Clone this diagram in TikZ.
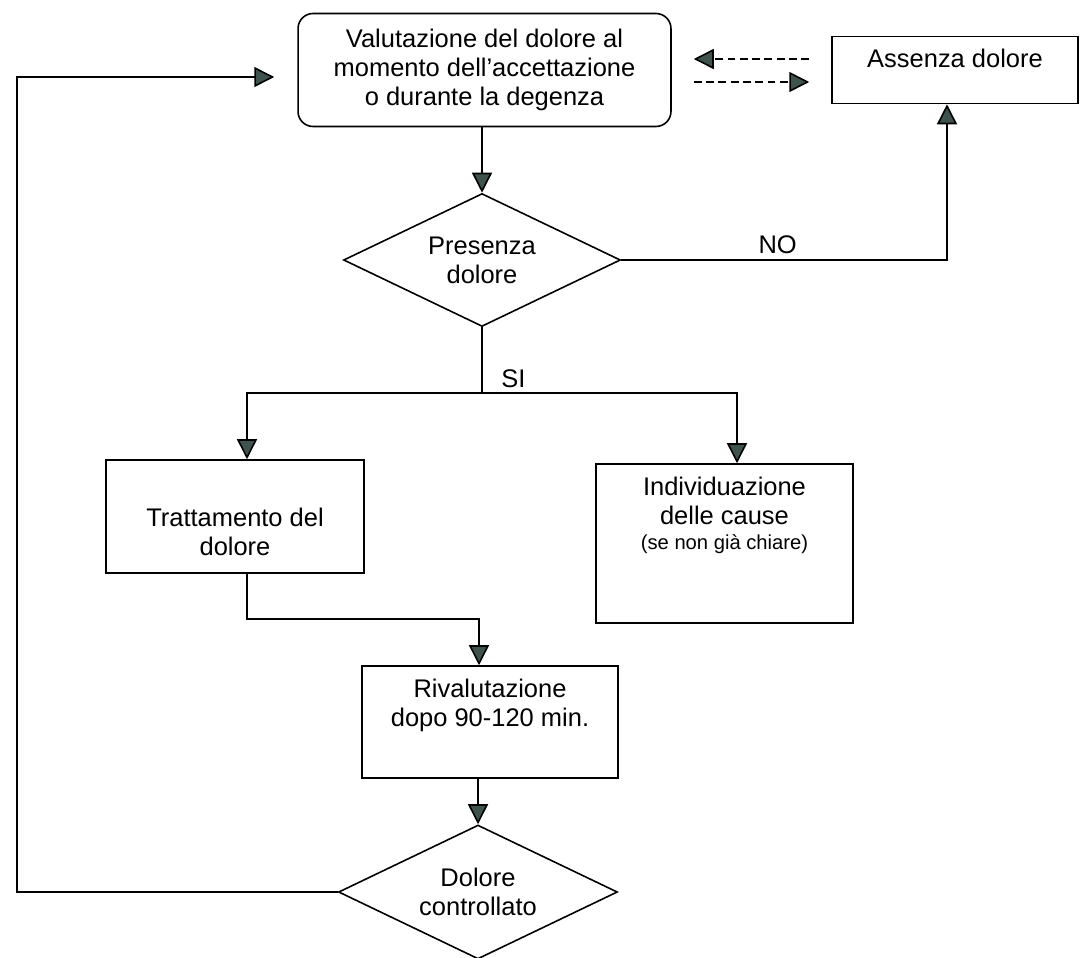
\documentclass[tikz,border=0pt]{standalone}
\usepackage{fontspec}
\setmainfont{Liberation Sans}
\usetikzlibrary{shapes.geometric,arrows.meta}
\definecolor{tipgray}{RGB}{62,82,78}

\begin{document}
\begin{tikzpicture}[x=0.02cm, y=-0.02cm,
	every node/.style={font=\fontsize{14.5}{16.5}\selectfont},
	box/.style={draw, line width=0.9pt, align=center, inner sep=0pt},
	decision/.style={draw, diamond, aspect=2.1, line width=0.9pt, align=center, inner sep=0pt},
	line/.style={line width=0.9pt},
	arrow/.style={line, -{Triangle[length=0.4cm, width=0.4cm, fill=tipgray]}},
	dasharrow/.style={arrow, dash pattern=on 4.5pt off 2.5pt, shorten <=0.44cm, shorten >=0.44cm}]
	   \useasboundingbox (0,0) rectangle (1081,957);
	   % boxes and decisions
	   \node[box, rounded corners=0.3cm, minimum width=7.46cm, minimum height=2.26cm] (valut) at (484.5,70) {Valutazione del dolore al\\momento dell'accettazione\\o durante la degenza};
	   \node[box, minimum width=4.92cm, minimum height=1.34cm, text depth=13.8pt] (assenza) at (955,70) {Assenza dolore};
	   \node[decision, minimum width=5.54cm, minimum height=2.66cm] (pres) at (482,260) {Presenza\\dolore};
	   \node[box, minimum width=5.16cm, minimum height=2.26cm] (treat) at (235,516.5) {\strut\\Trattamento del\\dolore};
	   \node[box, minimum width=5.14cm, minimum height=3.18cm] (cause) at (724.5,543.5) {Individuazione\\delle cause\\[-2.5pt]{\fontsize{11.5}{14}\selectfont (se non già chiare)}\\[13pt]\strut};
	   \node[box, minimum width=5.12cm, minimum height=2.24cm] (rival) at (490,722) {Rivalutazione\\dopo 90-120 min.\\\strut};
	   \node[decision, minimum width=5.58cm, minimum height=2.68cm] (ctrl) at (478,892) {Dolore\\controllato};
	   % connectors
	   \draw[arrow] (valut.south -| pres.north) -- (pres.north);
	   \draw[dasharrow] ([yshift=2.2mm]assenza.west) -- ([yshift=2.2mm]valut.east);
	   \draw[dasharrow] ([yshift=-2.4mm]valut.east) -- ([yshift=-2.4mm]assenza.west);
	   \draw[arrow] (pres.east) -| node[pos=0.24, above] (no) {NO} ([xshift=-1.6mm]assenza.south);
	   \coordinate (split) at (482,393);
	   \draw[line] (pres.south) -- (split);
	   \node[anchor=base west, inner sep=0pt] (si) at (501,387) {SI};
	   \draw[arrow] (split) -| ([xshift=2.4mm]treat.north);
	   \draw[arrow] (split) -| ([xshift=2.5mm]cause.north);
	   \coordinate (merge) at (479,619);
	   \draw[arrow] ([xshift=2.4mm]treat.south) |- (merge) -- (merge |- rival.north);
	   \draw[arrow] (rival.south -| ctrl.north) -- (ctrl.north);
	   \coordinate (back) at (17,500);
	   \draw[arrow, shorten >=0.46cm] (ctrl.west) -| (back) |- ([yshift=-1.4mm]valut.west);
\end{tikzpicture}
\end{document}
